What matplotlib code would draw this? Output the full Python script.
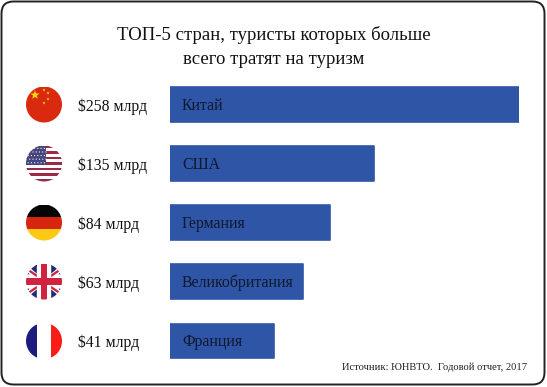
import math
import matplotlib
matplotlib.use('Agg')
import matplotlib.pyplot as plt
from matplotlib.patches import Circle, FancyBboxPatch, Rectangle, Polygon

plt.rcParams['font.family'] = ['Liberation Serif', 'DejaVu Sans']

countries = ['Китай', 'США', 'Германия', 'Великобритания', 'Франция']
value_labels = ['$258 млрд', '$135 млрд', '$84 млрд', '$63 млрд', '$41 млрд']
# bars in the picture are not to scale with the labels, so read separately
bar_values = [258, 151, 118, 98.5, 77]
flags = ['cn', 'us', 'de', 'gb', 'fr']
title = 'ТОП-5 стран, туристы которых больше\nвсего тратят на туризм'
source = 'Источник: ЮНВТО.  Годовой отчет, 2017'

W, H = 547, 387
row_y = [104.5, 163.5, 222.5, 281.5, 341]
row_step = 59
bar_left, bar_right = 170, 519
flag_x, flag_r = 44, 18

fig = plt.figure(figsize=(W / 100, H / 100), dpi=100, facecolor='white')

# overlay in pixel coordinates for frame, flags and text
bg = fig.add_axes([0, 0, 1, 1])
bg.set_xlim(0, W)
bg.set_ylim(H, 0)
bg.axis('off')
bg.add_patch(FancyBboxPatch((1.5, 1.5), W - 4, H - 4, boxstyle='round,pad=0,rounding_size=12',
                            fc='white', ec='#222222', lw=1.4))

ax = fig.add_axes([bar_left / W, 1 - (row_y[-1] + row_step / 2) / H,
                   (bar_right - bar_left) / W, (row_y[-1] - row_y[0] + row_step) / H])
ax.patch.set_alpha(0)
ax.barh(range(len(countries)), bar_values, height=0.59, color='#2f56a6',
        edgecolor='#2f56a6', linewidth=1.2, joinstyle='round')
ax.set_xlim(0, 258)
ax.set_ylim(len(countries) - 0.5, -0.5)
ax.axis('off')
for i, name in enumerate(countries):
    ax.text(8.9, i + 0.02, name, color='#10172e', fontsize=11.4, va='center', ha='left')


def star(cx, cy, r, color):
    pts = []
    for k in range(10):
        rr = r if k % 2 == 0 else r * 0.4
        a = -math.pi / 2 + k * math.pi / 5
        pts.append((cx + rr * math.cos(a), cy + rr * math.sin(a)))
    return bg.add_patch(Polygon(pts, closed=True, fc=color, ec='none'))


def draw_flag(kind, cy):
    x0, y0 = flag_x - flag_r, cy - flag_r
    d = 2 * flag_r
    clip = Circle((flag_x, cy), flag_r, transform=bg.transData)
    parts = []

    def rect(x, y, w, h, c):
        parts.append(bg.add_patch(Rectangle((x0 + x * d, y0 + y * d), w * d, h * d, fc=c, ec='none')))

    def poly(pts, c):
        parts.append(bg.add_patch(Polygon([(x0 + a * d, y0 + b * d) for a, b in pts], closed=True, fc=c, ec='none')))

    if kind == 'cn':
        rect(0, 0, 1, 1, '#d9290f')
        parts.append(star(flag_x - 9, cy - 9.5, 4.8, '#fbd90c'))
        for dx, dy in [(0, -14.5), (4, -11.5), (4, -5.5), (0, -1.5)]:
            parts.append(star(flag_x + dx, cy + dy, 1.7, '#fbd90c'))
    elif kind == 'us':
        rect(0, 0, 1, 1, 'white')
        for s in range(0, 13, 2):
            rect(0, s / 13, 1, 1 / 13, '#9c2a45')
        rect(0, 0, 0.55, 7 / 13, '#46467e')
        for r in range(5):
            for c in range(6):
                parts.append(bg.add_patch(Circle((x0 + (0.06 + c * 0.09 + (r % 2) * 0.045) * d,
                                                  y0 + (0.08 + r * 0.1) * d), 0.6, fc='white', ec='none')))
    elif kind == 'de':
        rect(0, 0, 1, 1 / 3, '#050505')
        rect(0, 1 / 3, 1, 1 / 3, '#d8250f')
        rect(0, 2 / 3, 1, 1 / 3, '#fcc915')
    elif kind == 'gb':
        rect(0, 0, 1, 1, 'white')
        # four pairs of blue triangles, white gaps between them and the cross
        for tri in [[(0.3, 0), (0.3, 0.28), (0.05, 0.07)], [(0.18, 0.0), (0.3, 0.0), (0.3, 0.1)],
                    [(0.7, 0), (0.7, 0.28), (0.95, 0.07)], [(0.3, 1), (0.3, 0.72), (0.05, 0.93)],
                    [(0.7, 1), (0.7, 0.72), (0.95, 0.93)],
                    [(0, 0.3), (0.1, 0.3), (0, 0.2)], [(1, 0.3), (0.9, 0.3), (1, 0.2)],
                    [(0, 0.7), (0.1, 0.7), (0, 0.8)], [(1, 0.7), (0.9, 0.7), (1, 0.8)]]:
            poly(tri, '#1f2a78')
        w = 0.035
        poly([(0, 0.14 - w), (0, 0.14 + w), (0.3, 0.38), (0.3, 0.3)], '#cf2340')
        poly([(1, 0.14 - w), (1, 0.14 + w), (0.7, 0.38), (0.7, 0.3)], '#cf2340')
        poly([(0, 0.86 - w), (0, 0.86 + w), (0.3, 0.7), (0.3, 0.62)], '#cf2340')
        poly([(1, 0.86 - w), (1, 0.86 + w), (0.7, 0.7), (0.7, 0.62)], '#cf2340')
        rect(0.41, 0, 0.18, 1, '#cf2340')
        rect(0, 0.39, 1, 0.22, '#cf2340')
    elif kind == 'fr':
        rect(0, 0, 0.31, 1, '#1b1c7c')
        rect(0.31, 0, 0.39, 1, 'white')
        rect(0.7, 0, 0.3, 1, '#f91c17')
    for p in parts:
        p.set_clip_path(clip)


for kind, cy, label in zip(flags, row_y, value_labels):
    draw_flag(kind, cy)
    bg.text(78, cy + 2, label, color='#111111', fontsize=11.3, va='center', ha='left')

bg.text(274, 47, title, color='#111111', fontsize=13.5, ha='center', va='center', linespacing=1.5)
bg.text(527, 367, source, color='#222222', fontsize=7.6, ha='right', va='center')

fig.savefig('out.png', dpi=100)
